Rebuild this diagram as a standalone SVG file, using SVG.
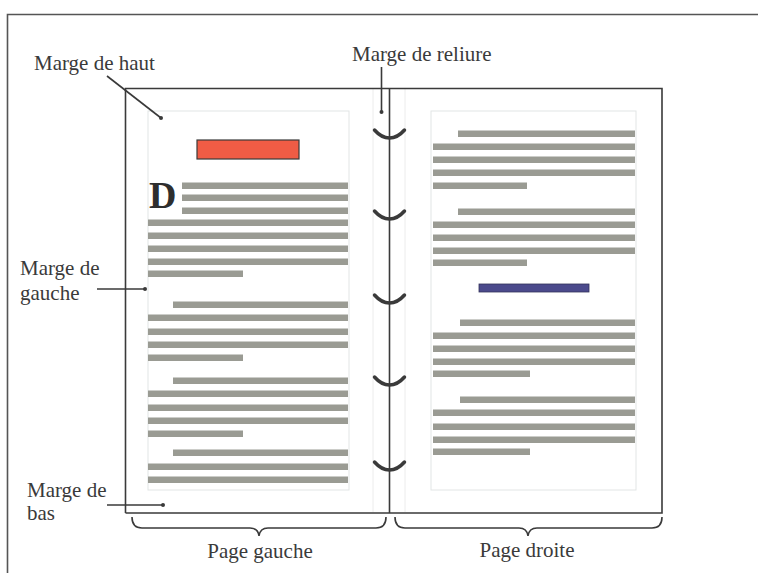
<svg xmlns="http://www.w3.org/2000/svg" width="758" height="573" viewBox="0 0 758 573">
<style>
.lbl{font-family:"Liberation Serif","Times New Roman",serif;font-size:21px;fill:#3a3a3a}
.ln{fill:#9a9b93}
.edge{fill:none;stroke:#3a3a3a;stroke-width:1.6}
.inner{fill:none;stroke:#e2e5e5;stroke-width:1}
.faint{stroke:#ececec;stroke-width:1}
.hook{fill:none;stroke:#3a3a3a;stroke-width:3.5;stroke-linecap:round}
.ptr{fill:none;stroke:#3a3a3a;stroke-width:1.6}
.dot{fill:#3a3a3a}
.brace{fill:none;stroke:#3a3a3a;stroke-width:1.6}
</style>
<defs>
<path id="hk" class="hook" d="M-15,-7 Q-8,1 0,1 Q8,1 15,-7"/>
</defs>
<rect width="758" height="573" fill="#fff"/>
<g id="frame">
<path d="M7.5,573 V14.5 H758" fill="none" stroke="#555" stroke-width="1.6"/>
</g>
<g id="left-page">
<rect class="inner" x="148" y="111" width="201" height="379"/>
<rect x="197" y="140" width="102" height="19" fill="#f05c45" stroke="#3a3a3a" stroke-width="1.2"/>
<text x="149" y="208" font-family="'Liberation Serif','Times New Roman',serif" font-weight="bold" font-size="38" fill="#2e2e2e">D</text>
<rect class="ln" x="182" y="182.5" width="166" height="6.5"/>
<rect class="ln" x="182" y="194.5" width="166" height="6.5"/>
<rect class="ln" x="182" y="207.5" width="166" height="6.5"/>
<rect class="ln" x="148" y="219.5" width="200" height="6.5"/>
<rect class="ln" x="148" y="232.5" width="200" height="6.5"/>
<rect class="ln" x="148" y="245.5" width="200" height="6.5"/>
<rect class="ln" x="148" y="258.5" width="200" height="6.5"/>
<rect class="ln" x="148" y="270.5" width="95" height="6.5"/>
<rect class="ln" x="173" y="301.5" width="175" height="6.5"/>
<rect class="ln" x="148" y="314.5" width="200" height="6.5"/>
<rect class="ln" x="148" y="328.5" width="200" height="6.5"/>
<rect class="ln" x="148" y="341.5" width="200" height="6.5"/>
<rect class="ln" x="148" y="354.5" width="95" height="6.5"/>
<rect class="ln" x="173" y="377.5" width="175" height="6.5"/>
<rect class="ln" x="148" y="390.5" width="200" height="6.5"/>
<rect class="ln" x="148" y="404.5" width="200" height="6.5"/>
<rect class="ln" x="148" y="417.5" width="200" height="6.5"/>
<rect class="ln" x="148" y="430.5" width="95" height="6.5"/>
<rect class="ln" x="173" y="449.5" width="175" height="6.5"/>
<rect class="ln" x="148" y="463.5" width="200" height="6.5"/>
<rect class="ln" x="148" y="476.5" width="200" height="6.5"/>
</g>
<g id="right-page">
<rect class="inner" x="431" y="111" width="205" height="379"/>
<rect x="479" y="284" width="110" height="8" fill="#4b4a8c" stroke="#33335a" stroke-width="0.8"/>
<rect class="ln" x="458" y="130.5" width="177" height="6.5"/>
<rect class="ln" x="433" y="143.5" width="202" height="6.5"/>
<rect class="ln" x="433" y="156.5" width="202" height="6.5"/>
<rect class="ln" x="433" y="169.5" width="202" height="6.5"/>
<rect class="ln" x="433" y="182.5" width="94" height="6.5"/>
<rect class="ln" x="458" y="208.5" width="177" height="6.5"/>
<rect class="ln" x="433" y="221.5" width="202" height="6.5"/>
<rect class="ln" x="433" y="234.5" width="202" height="6.5"/>
<rect class="ln" x="433" y="247.5" width="202" height="6.5"/>
<rect class="ln" x="433" y="259.5" width="94" height="6.5"/>
<rect class="ln" x="460" y="319.5" width="175" height="6.5"/>
<rect class="ln" x="433" y="332.5" width="202" height="6.5"/>
<rect class="ln" x="433" y="345.5" width="202" height="6.5"/>
<rect class="ln" x="433" y="358.5" width="202" height="6.5"/>
<rect class="ln" x="433" y="370.5" width="97" height="6.5"/>
<rect class="ln" x="460" y="396.5" width="175" height="6.5"/>
<rect class="ln" x="433" y="409.5" width="202" height="6.5"/>
<rect class="ln" x="433" y="423.5" width="202" height="6.5"/>
<rect class="ln" x="433" y="436.5" width="202" height="6.5"/>
<rect class="ln" x="433" y="448.5" width="97" height="6.5"/>
</g>
<g id="book">
<line class="faint" x1="373" y1="89" x2="373" y2="512"/>
<line class="faint" x1="405" y1="89" x2="405" y2="512"/>
<path class="edge" d="M125.5,513 V88.5 H662 V513 H125.5"/>
<line class="edge" x1="389.5" y1="88" x2="389.5" y2="513"/>
</g>
<g id="binding">
<use href="#hk" x="389.5" y="137"/>
<use href="#hk" x="389.5" y="218"/>
<use href="#hk" x="389.5" y="302"/>
<use href="#hk" x="389.5" y="384"/>
<use href="#hk" x="389.5" y="469"/>
</g>
<g id="connectors">
<line class="ptr" x1="107" y1="76" x2="161" y2="118"/>
<circle class="dot" cx="161" cy="118" r="2"/>
<line class="ptr" x1="381.5" y1="67" x2="381.5" y2="112"/>
<circle class="dot" cx="381.5" cy="112" r="2"/>
<line class="ptr" x1="97" y1="289" x2="145" y2="289"/>
<circle class="dot" cx="145" cy="289" r="2"/>
<line class="ptr" x1="107" y1="505" x2="163" y2="505"/>
<circle class="dot" cx="163" cy="505" r="2"/>
<path class="brace" d="M132,517 Q132,528 142,528 L250,528 Q258,528 259,536 Q260,528 268,528 L376,528 Q386,528 386,517"/>
<path class="brace" d="M395,517 Q395,528 405,528 L519,528 Q527,528 528,536 Q529,528 537,528 L652,528 Q662,528 662,517"/>
</g>
<g id="label-haut"><text class="lbl" x="34" y="70">Marge de haut</text></g>
<g id="label-reliure"><text class="lbl" x="352" y="61">Marge de reliure</text></g>
<g id="label-gauche"><text class="lbl" x="20" y="275">Marge de</text><text class="lbl" x="20" y="300">gauche</text></g>
<g id="label-bas"><text class="lbl" x="27" y="497">Marge de</text><text class="lbl" x="27" y="520">bas</text></g>
<g id="label-page-gauche"><text class="lbl" x="260" y="558" text-anchor="middle">Page gauche</text></g>
<g id="label-page-droite"><text class="lbl" x="527" y="557" text-anchor="middle">Page droite</text></g>
</svg>
